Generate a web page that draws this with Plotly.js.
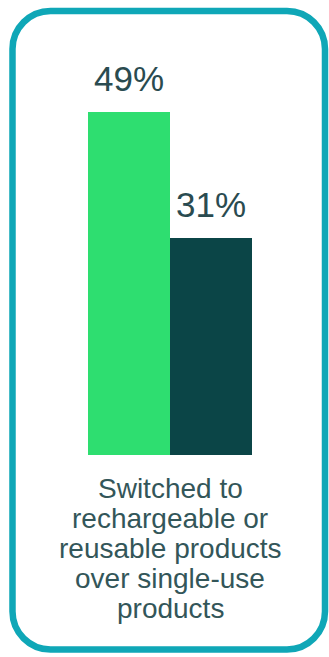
<!DOCTYPE html>
<html><head><meta charset="utf-8">
<script src="https://cdn.plot.ly/plotly-3.0.1.min.js"></script>
<style>html,body{margin:0;padding:0;background:#fff;}#chart{width:329px;height:657px;}</style>
</head><body><div id="chart"></div>
<script>
var seriesNames = ["Series A", "Series B"];
var values = [49, 31];
var valueLabels = ["49%", "31%"];
var categoryLabel = ["Switched to", "rechargeable or", "reusable products", "over single-use", "products"];
var colors = ["#2EDE70", "#0B4547"];

var W = 329, H = 657, mL = 88, mR = 77, mT = 60, mB = 202;
var pw = W - mL - mR, ph = H - mT - mB;
function px(x){ return ((x - mL) / pw).toFixed(4); }
function py(y){ return ((H - mB - y) / ph).toFixed(4); }
var x0 = 12.5, x1 = 325, y0 = 11, y1 = 649.5, r = 38, k = 0.55;
var path = "M" + px(x0 + r) + "," + py(y0) +
  " L" + px(x1 - r) + "," + py(y0) +
  " C" + px(x1 - r + r*k) + "," + py(y0) + " " + px(x1) + "," + py(y0 + r - r*k) + " " + px(x1) + "," + py(y0 + r) +
  " L" + px(x1) + "," + py(y1 - r) +
  " C" + px(x1) + "," + py(y1 - r + r*k) + " " + px(x1 - r + r*k) + "," + py(y1) + " " + px(x1 - r) + "," + py(y1) +
  " L" + px(x0 + r) + "," + py(y1) +
  " C" + px(x0 + r - r*k) + "," + py(y1) + " " + px(x0) + "," + py(y1 - r + r*k) + " " + px(x0) + "," + py(y1 - r) +
  " L" + px(x0) + "," + py(y0 + r) +
  " C" + px(x0) + "," + py(y0 + r - r*k) + " " + px(x0 + r - r*k) + "," + py(y0) + " " + px(x0 + r) + "," + py(y0) + " Z";

var xs = [0, 1];
var trace = {
  type: "bar", x: xs, y: values, width: 1,
  marker: {color: colors, line: {width: 0}},
  hoverinfo: "skip", showlegend: false
};
var font = "Liberation Sans, Arial, sans-serif";
var annotations = xs.map(function(x, i){
  return {x: x, y: values[i], xref: "x", yref: "y", text: valueLabels[i], showarrow: false,
    yanchor: "bottom", yshift: 12, font: {family: font, size: 35, color: "#2A4B50"}};
});
categoryLabel.forEach(function(line, i){
  var baseline = 497 + 30 * i;
  annotations.push({x: 0.5, xref: "x", yref: "paper", y: py(baseline - 8.5), yanchor: "middle",
    text: line, showarrow: false, font: {family: font, size: 28, color: "#335659"}});
});
var layout = {
  width: W, height: H,
  margin: {l: mL, r: mR, t: mT, b: mB, pad: 0},
  paper_bgcolor: "#ffffff", plot_bgcolor: "#ffffff",
  xaxis: {range: [-0.5, 1.5], showticklabels: false, ticks: "",
    showgrid: false, zeroline: false, showline: false, fixedrange: true},
  yaxis: {range: [0, ph / 7], visible: false, showgrid: false, zeroline: false},
  bargap: 0,
  annotations: annotations,
  shapes: [{type: "path", xref: "paper", yref: "paper", path: path, line: {color: "#0FA7B7", width: 6.5}, fillcolor: "rgba(0,0,0,0)"}]
};
Plotly.newPlot("chart", [trace], layout, {displayModeBar: false, staticPlot: true});
</script></body></html>
